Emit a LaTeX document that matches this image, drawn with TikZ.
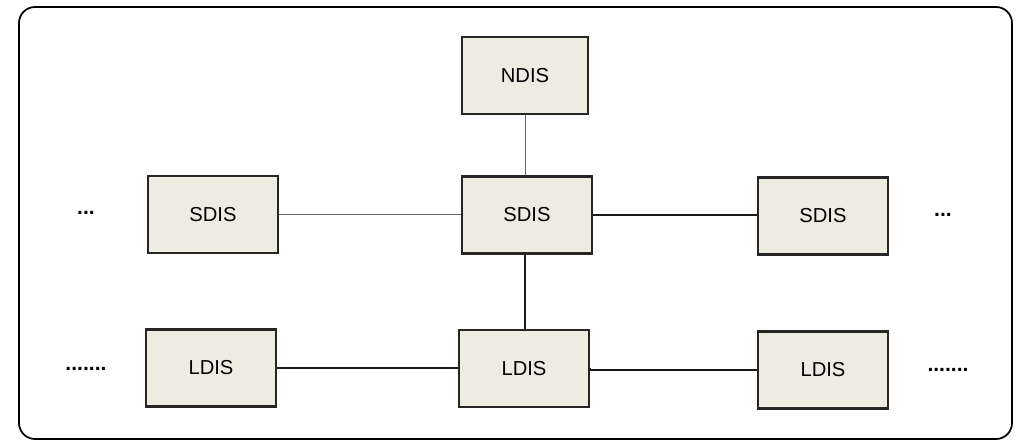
\documentclass[tikz,border=0pt]{standalone}
\usepackage{fontspec}
\setmainfont{Liberation Sans}
\begin{document}
\begin{tikzpicture}[x=0.02cm,y=-0.02cm,
  isbox/.style={draw=black!85,line width=1.2pt,fill=boxfill,minimum width=2.6cm,minimum height=1.54cm,inner sep=0pt,font=\fontsize{11.5}{13}\selectfont},
  thinlink/.style={draw=black!60,line width=0.5pt},
  thicklink/.style={draw=black!90,line width=1.1pt},
  dots/.style={font=\fontsize{12}{13}\selectfont\bfseries}]
\definecolor{boxfill}{HTML}{EEECE0}
\useasboundingbox (0,0) rectangle (1025,442);
\draw[line width=1pt,rounded corners=0.32cm] (19,7) rectangle (1012,439);
% top level
\node[isbox,minimum width=2.52cm] (ndis) at (525,75.5) {NDIS};
% second level
\node[isbox] (sdisl) at (213,214.5) {SDIS};
\node[isbox] (sdisc) at (527,215) {SDIS};
\node[isbox] (sdisr) at (823,216) {SDIS};
% third level
\node[isbox] (ldisl) at (211,368) {LDIS};
\node[isbox] (ldisc) at (524,368.5) {LDIS};
\node[isbox] (ldisr) at (823,370) {LDIS};
% continuation marks
\node[dots] (dotsl) at (86,213) {...};
\node[dots] (dotsr) at (943,215) {...};
\node[dots] (ldotsl) at (86,369) {.......};
\node[dots] (ldotsr) at (948,370) {.......};
% links
\draw[thinlink] (ndis.south) -- (ndis.south |- sdisc.north);
\draw[thinlink] (sdisl.east) -- (sdisl.east -| sdisc.west);
\draw[thicklink] (sdisc.east) -- (sdisc.east -| sdisr.west);
\draw[thicklink] (ldisc.north -| 525,0) -- (sdisc.south -| 525,0);
\draw[thicklink] (ldisl.east) -- (ldisl.east -| ldisc.west);
\draw[thicklink] (ldisc.east) -- ++(0,1.5) -| (ldisr.west);
\end{tikzpicture}
\end{document}
